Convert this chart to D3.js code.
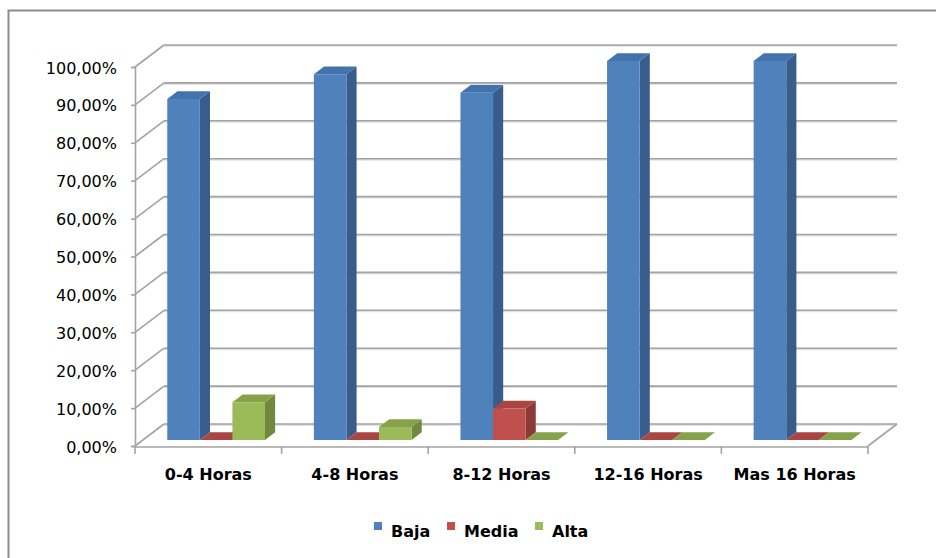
<!DOCTYPE html>
<html>
<head>
<meta charset="utf-8">
<script src="https://cdn.jsdelivr.net/npm/d3@7/dist/d3.min.js"></script>
<style>
  html, body { margin: 0; padding: 0; background: #fff; }
  svg { display: block; }
  text { font-family: "DejaVu Sans", sans-serif; fill: #000; }
</style>
</head>
<body>
<svg id="chart" width="936" height="558"></svg>
<script>
// Categories and series (percent values)
const categories = ["0-4 Horas", "4-8 Horas", "8-12 Horas", "12-16 Horas", "Mas 16 Horas"];
const seriesNames = ["Baja", "Media", "Alta"];
const baja  = [90, 96.55, 91.67, 100, 100];
const media = [0, 0, 8.33, 0, 0];
const alta  = [10, 3.45, 0, 0, 0];
const yTicks = [0, 10, 20, 30, 40, 50, 60, 70, 80, 90, 100];

const seriesValues = [baja, media, alta];
const palette = {
  Baja:  { front: "#4f81bd", side: "#385d8a", top: "#4373ab" },
  Media: { front: "#c0504d", side: "#8c3a38", top: "#a94542" },
  Alta:  { front: "#9bbb59", side: "#71893f", top: "#86a34c" }
};

const svg = d3.select("#chart");
const W = 936, H = 558;

// outer chart frame
svg.append("rect")
  .attr("x", 8.5).attr("y", 10.5)
  .attr("width", W + 20).attr("height", H + 20)
  .attr("fill", "none").attr("stroke", "#8c8c8c").attr("stroke-width", 2);

// plot geometry (front plane) and oblique depth offset
const x0 = 135, x1 = 868;
const DX = 29, DY = -22;
const proj = (px, py, d) => [px + d * DX, py + d * DY];

const x = d3.scaleBand().domain(categories).range([x0, x1]).paddingInner(0).paddingOuter(0);
const y = d3.scaleLinear().domain([0, 100]).range([446, 67]);

const step = x.step();
const barW = step / 4.5;
const inner = d3.scaleBand().domain(seriesNames)
  .range([(step - 3 * barW) / 2, (step + 3 * barW) / 2]).padding(0);

const gridColor = "#a3a3a3";
const grid = svg.append("g");

// back wall gridlines + side wall diagonals
yTicks.forEach(t => {
  const [bx, by] = proj(x0, y(t), 1);
  const [ex] = proj(x1, y(t), 1);
  grid.append("line")
    .attr("x1", bx).attr("y1", by + 1).attr("x2", ex).attr("y2", by + 1)
    .attr("stroke", "#e2e2e2").attr("stroke-width", 2);
  grid.append("line")
    .attr("x1", bx).attr("y1", by).attr("x2", ex).attr("y2", by)
    .attr("stroke", gridColor).attr("stroke-width", 1.6);
  grid.append("line")
    .attr("x1", x0).attr("y1", y(t)).attr("x2", bx).attr("y2", by)
    .attr("stroke", gridColor).attr("stroke-width", 1.6);
});

// floor: front edge and right edge
const [frx, fry] = proj(x1, y(0), 1);
grid.append("line")
  .attr("x1", x1).attr("y1", y(0)).attr("x2", frx).attr("y2", fry)
  .attr("stroke", gridColor).attr("stroke-width", 1.6);

// 3D bars
const d0 = 0.27, d1 = 0.62;
const bars = svg.append("g");
const poly = pts => pts.map(p => p.join(",")).join(" ");

categories.forEach((cat, ci) => {
  seriesNames.forEach((s, si) => {
    const v = seriesValues[si][ci];
    const c = palette[s];
    const xl = x(cat) + inner(s), xr = xl + barW;
    const yb = y(0), yt = y(v);
    const fBL = proj(xl, yb, d0), fBR = proj(xr, yb, d0);
    const fTL = proj(xl, yt, d0), fTR = proj(xr, yt, d0);
    const bTL = proj(xl, yt, d1), bTR = proj(xr, yt, d1), bBR = proj(xr, yb, d1);
    // side face
    bars.append("polygon").attr("points", poly([fBR, fTR, bTR, bBR])).attr("fill", c.side);
    // top face
    bars.append("polygon").attr("points", poly([fTL, fTR, bTR, bTL])).attr("fill", c.top);
    // front face
    bars.append("polygon").attr("points", poly([fBL, fTL, fTR, fBR])).attr("fill", c.front);
  });
});

// front vertical axis
const locale = d3.formatLocale({ decimal: ",", thousands: ".", grouping: [3], currency: ["", "€"] });
const fmt = v => locale.format(".2f")(v) + "%";
const yAxis = svg.append("g")
  .attr("transform", `translate(${x0},0)`)
  .call(d3.axisLeft(y).tickValues(yTicks).tickSize(4).tickPadding(14).tickFormat(fmt));
yAxis.select(".domain").attr("stroke", gridColor).attr("stroke-width", 1.6);
yAxis.selectAll(".tick line").attr("stroke", gridColor).attr("stroke-width", 1.6);
yAxis.selectAll(".tick text")
  .attr("font-family", "DejaVu Sans").attr("font-size", 16).attr("dy", "0.38em")
  .attr("fill", "#000");

// front horizontal axis with category boundary ticks
svg.append("line")
  .attr("x1", x0).attr("y1", y(0) + 1).attr("x2", x1).attr("y2", y(0) + 1)
  .attr("stroke", gridColor).attr("stroke-width", 1.6);
const bounds = categories.map(c => x(c)).concat([x1]);
svg.append("g").selectAll("line").data(bounds).join("line")
  .attr("x1", d => d).attr("x2", d => d)
  .attr("y1", y(0)).attr("y2", y(0) + 8)
  .attr("stroke", gridColor).attr("stroke-width", 1.6);

const xAxis = svg.append("g")
  .attr("transform", `translate(0,${y(0)})`)
  .call(d3.axisBottom(x).tickSize(0).tickPadding(23));
xAxis.select(".domain").remove();
xAxis.selectAll(".tick text")
  .attr("font-family", "DejaVu Sans").attr("font-size", 16).attr("font-weight", "bold")
  .attr("fill", "#000");

// legend
const legendItems = [
  { name: "Baja",  x: 374 },
  { name: "Media", x: 447 },
  { name: "Alta",  x: 535 }
];
const lg = svg.append("g");
legendItems.forEach(it => {
  lg.append("rect")
    .attr("x", it.x).attr("y", 522).attr("width", 8).attr("height", 8)
    .attr("fill", palette[it.name].front);
  lg.append("text")
    .attr("x", it.x + 17).attr("y", 537)
    .attr("font-size", 16).attr("font-weight", "bold")
    .text(it.name);
});
</script>
</body>
</html>
